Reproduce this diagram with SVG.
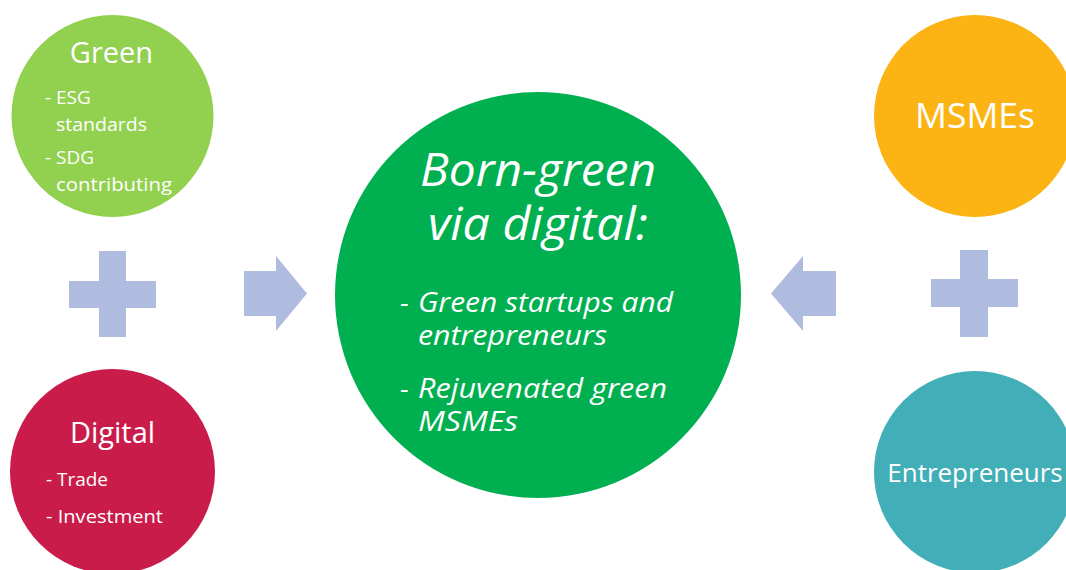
<svg xmlns="http://www.w3.org/2000/svg" width="1066" height="570" viewBox="0 0 1066 570">
<style>
text{font-family:"Open Sans","Noto Sans","Liberation Sans",sans-serif;fill:#ffffff}
.t{font-size:29px}
.b{font-size:19px}
.c{font-style:italic}
.h{font-size:45px}
.p{font-size:28px}
.shape{fill:#AFBCDF}
</style>
<rect width="1066" height="570" fill="#ffffff"/>
<g id="connectors">
<path id="plus-left" class="shape" d="M99,251H126V281H156V308H126V337H99V308H69V281H99Z"/>
<path id="arrow-right" class="shape" d="M244,271H276V256L307,293.5L276,331V316H244Z"/>
<path id="arrow-left" class="shape" d="M836,271H803V256L771,293.5L803,331V316H836Z"/>
<path id="plus-right" class="shape" d="M960,250H988V279H1018V307H988V337H960V307H931V279H960Z"/>
</g>
<g id="node-green">
<circle cx="112.5" cy="116" r="101" fill="#92D050"/>
<text class="t" x="111.5" y="63" text-anchor="middle">Green</text>
<text class="b" x="45" y="104">- ESG</text>
<text class="b" x="56" y="131" textLength="91" lengthAdjust="spacingAndGlyphs">standards</text>
<text class="b" x="45" y="164">- SDG</text>
<text class="b" x="56" y="191" textLength="116" lengthAdjust="spacingAndGlyphs">contributing</text>
</g>
<g id="node-digital">
<circle cx="112.5" cy="471.5" r="102.5" fill="#C91C4A"/>
<text class="t" x="112.5" y="443" text-anchor="middle">Digital</text>
<text class="b" x="46" y="486" textLength="62" lengthAdjust="spacingAndGlyphs">- Trade</text>
<text class="b" x="46" y="523" textLength="117" lengthAdjust="spacingAndGlyphs">- Investment</text>
</g>
<g id="node-center">
<circle cx="538" cy="295" r="203" fill="#00AF50"/>
<text class="c h" x="420" y="186" textLength="236" lengthAdjust="spacingAndGlyphs">Born-green</text>
<text class="c h" x="428" y="240" textLength="220" lengthAdjust="spacingAndGlyphs">via digital:</text>
<text class="c p" x="400" y="312">-</text>
<text class="c p" x="418" y="312" textLength="255" lengthAdjust="spacingAndGlyphs">Green startups and</text>
<text class="c p" x="418" y="345" textLength="189" lengthAdjust="spacingAndGlyphs">entrepreneurs</text>
<text class="c p" x="400" y="398">-</text>
<text class="c p" x="418" y="398" textLength="249" lengthAdjust="spacingAndGlyphs">Rejuvenated green</text>
<text class="c p" x="418" y="431" textLength="100" lengthAdjust="spacingAndGlyphs">MSMEs</text>
</g>
<g id="node-msmes">
<circle cx="975" cy="116" r="101" fill="#FCB415"/>
<text x="975" y="128" font-size="35.5" text-anchor="middle">MSMEs</text>
</g>
<g id="node-entrepreneurs">
<circle cx="975" cy="472" r="101" fill="#42AEB7"/>
<text x="975" y="482" font-size="26" text-anchor="middle">Entrepreneurs</text>
</g>
</svg>
